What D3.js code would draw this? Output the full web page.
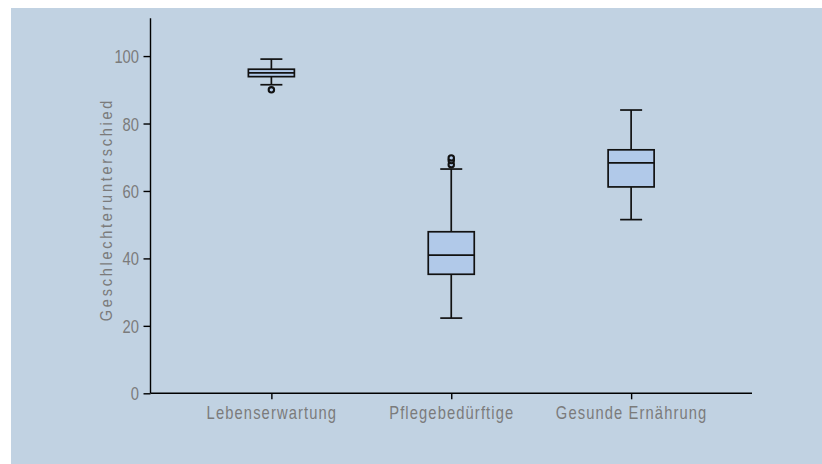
<!DOCTYPE html>
<html>
<head>
<meta charset="utf-8">
<script src="https://cdn.jsdelivr.net/npm/d3@7"></script>
<style>
  html, body { margin: 0; padding: 0; background: #ffffff; }
  svg { display: block; }
  .lbl { font-family: "Liberation Sans", Arial, sans-serif; fill: #7b7b7b; }
</style>
</head>
<body>
<svg id="chart" width="822" height="464"></svg>
<script>
// Box-plot summary per category
const categories   = ["Lebenserwartung", "Pflegebedürftige", "Gesunde Ernährung"];
const whiskerLow   = [91.5, 22.3, 51.5];
const quartile1    = [93.9, 35.3, 61.2];
const medians      = [95.0, 41.0, 68.3];
const quartile3    = [96.1, 47.9, 72.2];
const whiskerHigh  = [99.1, 66.5, 84.0];
const outliers     = [[90.0], [67.8, 69.0, 69.8], []];
const yTicks       = [0, 20, 40, 60, 80, 100];
const yTitle       = "Geschlechterunterschied";

const svg = d3.select("#chart");
const squeeze = 0.82;   // horizontal compression for a condensed face

// panel background
svg.append("rect")
  .attr("x", 11).attr("y", 8)
  .attr("width", 811).attr("height", 456)
  .attr("fill", "#c1d2e2");

const y = d3.scaleLinear().domain([0, 111.2]).range([393.3, 18.3]);
const x = d3.scalePoint().domain(categories).range([150.5, 752]).padding(0.672);

const boxW = 46, capW = 22;

// y axis
const yAxis = svg.append("g")
  .attr("transform", "translate(150.5,0)")
  .call(d3.axisLeft(y).tickValues(yTicks).tickSize(7).tickSizeOuter(0));
yAxis.select(".domain").attr("stroke", "#000").attr("stroke-width", 1.4)
  .attr("d", `M0,${y.range()[1]}V${y(0)}`);
yAxis.selectAll(".tick line").attr("stroke", "#000").attr("stroke-width", 1.4);
yAxis.selectAll(".tick text")
  .attr("class", "lbl").attr("font-size", 18)
  .attr("x", -11.5 / squeeze).attr("dy", "0.36em")
  .attr("transform", `scale(${squeeze},1)`);

// x axis
const xAxis = svg.append("g")
  .attr("transform", `translate(0,${y(0)})`)
  .call(d3.axisBottom(x).tickSize(6).tickSizeOuter(0));
xAxis.select(".domain").attr("stroke", "#000").attr("stroke-width", 1.4)
  .attr("d", `M150.5,0H752`);
xAxis.selectAll(".tick text")
  .attr("class", "lbl").attr("font-size", 18)
  .attr("y", 25.6).attr("dy", 0)
  .attr("letter-spacing", 1.35)
  .attr("transform", `scale(${squeeze},1)`);
xAxis.selectAll(".tick line").attr("stroke", "#000").attr("stroke-width", 1.4);
svg.selectAll("g").attr("font-family", null);

// y title
const titleSqueeze = 0.88;
svg.append("text")
  .attr("class", "lbl")
  .attr("font-size", 16.5)
  .attr("letter-spacing", 3.1)
  .attr("text-anchor", "middle")
  .attr("transform", `translate(111.5,${y(54.5)}) rotate(-90) scale(${titleSqueeze},1)`)
  .text(yTitle);

// boxes
const rows = categories.map((c, i) => ({
  c, lo: whiskerLow[i], q1: quartile1[i], med: medians[i], q3: quartile3[i], hi: whiskerHigh[i], out: outliers[i]
}));

const g = svg.append("g").attr("stroke", "#111").attr("stroke-width", 1.7);
const box = g.selectAll("g.box").data(rows).join("g").attr("class", "box")
  .attr("transform", d => `translate(${x(d.c)},0)`);

box.append("line").attr("x1", 0).attr("x2", 0)
  .attr("y1", d => y(d.hi)).attr("y2", d => y(d.q3));
box.append("line").attr("x1", 0).attr("x2", 0)
  .attr("y1", d => y(d.q1)).attr("y2", d => y(d.lo));
box.append("line").attr("x1", -capW / 2).attr("x2", capW / 2)
  .attr("y1", d => y(d.hi)).attr("y2", d => y(d.hi));
box.append("line").attr("x1", -capW / 2).attr("x2", capW / 2)
  .attr("y1", d => y(d.lo)).attr("y2", d => y(d.lo));
box.append("rect")
  .attr("x", -boxW / 2).attr("width", boxW)
  .attr("y", d => y(d.q3)).attr("height", d => y(d.q1) - y(d.q3))
  .attr("fill", "#b1c9e9");
box.append("line").attr("x1", -boxW / 2).attr("x2", boxW / 2)
  .attr("y1", d => y(d.med)).attr("y2", d => y(d.med));
box.selectAll("circle").data(d => d.out).join("circle")
  .attr("cx", 0).attr("cy", v => y(v)).attr("r", 2.7)
  .attr("fill", "#b1c9e9").attr("stroke-width", 2.1);
</script>
</body>
</html>
